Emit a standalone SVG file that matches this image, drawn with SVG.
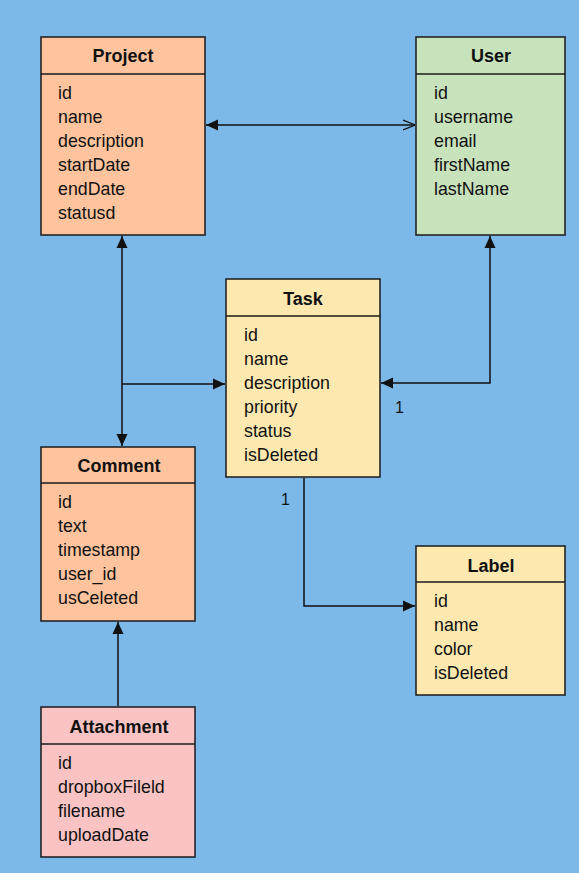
<svg xmlns="http://www.w3.org/2000/svg" width="579" height="873" viewBox="0 0 579 873">
<defs>
<style>
.box{stroke:#1a1a1a;stroke-width:1.5}
.div{stroke:#1a1a1a;stroke-width:1.5}
.t{font-family:"Liberation Sans",Arial,sans-serif;font-size:18px;font-weight:bold;fill:#111;text-anchor:middle}
.f{font-family:"Liberation Sans",Arial,sans-serif;font-size:17.8px;fill:#111}
.c{stroke:#111;stroke-width:1.5;fill:none}
.lbl{font-family:"Liberation Sans",Arial,sans-serif;font-size:16px;fill:#111}
</style>
<marker id="af" viewBox="0 0 12 12" refX="12" refY="6" markerWidth="12" markerHeight="12" markerUnits="userSpaceOnUse" orient="auto-start-reverse">
<path d="M0,0.5 L12,6 L0,11.5 z" fill="#111"/>
</marker>
<marker id="ao" viewBox="0 0 12 12" refX="12" refY="6" markerWidth="12" markerHeight="12" markerUnits="userSpaceOnUse" orient="auto">
<path d="M0,1 L12,6 L0,11" fill="none" stroke="#111" stroke-width="1.3"/>
</marker>
</defs>
<rect width="579" height="873" fill="#7db9e8"/>

<g id="connectors">
<line class="c" x1="206" y1="125" x2="415" y2="125" marker-start="url(#af)" marker-end="url(#ao)"/>
<line class="c" x1="122" y1="236" x2="122" y2="446" marker-start="url(#af)" marker-end="url(#af)"/>
<line class="c" x1="122" y1="384" x2="225" y2="384" marker-end="url(#af)"/>
<polyline class="c" points="490,236 490,383 381,383" marker-start="url(#af)" marker-end="url(#af)"/>
<text class="lbl" x="395" y="413">1</text>
<polyline class="c" points="304,478 304,606 415,606" marker-end="url(#af)"/>
<text class="lbl" x="281" y="505">1</text>
<line class="c" x1="118" y1="706" x2="118" y2="622" marker-end="url(#af)"/>
</g>

<g id="project">
<rect class="box" x="41" y="37" width="164" height="198" fill="#ffc49e"/>
<line class="div" x1="41" y1="74" x2="205" y2="74"/>
<text class="t" x="123" y="62">Project</text>
<text class="f" x="58" y="99">id</text>
<text class="f" x="58" y="123">name</text>
<text class="f" x="58" y="147">description</text>
<text class="f" x="58" y="171">startDate</text>
<text class="f" x="58" y="195">endDate</text>
<text class="f" x="58" y="219">statusd</text>
</g>

<g id="user">
<rect class="box" x="416" y="37" width="149" height="198" fill="#c8e2bc"/>
<line class="div" x1="416" y1="74" x2="565" y2="74"/>
<text class="t" x="491" y="62">User</text>
<text class="f" x="434" y="99">id</text>
<text class="f" x="434" y="123">username</text>
<text class="f" x="434" y="147">email</text>
<text class="f" x="434" y="171">firstName</text>
<text class="f" x="434" y="195">lastName</text>
</g>

<g id="task">
<rect class="box" x="226" y="279" width="154" height="198" fill="#fde8b0"/>
<line class="div" x1="226" y1="316" x2="380" y2="316"/>
<text class="t" x="303" y="305">Task</text>
<text class="f" x="244" y="341">id</text>
<text class="f" x="244" y="365">name</text>
<text class="f" x="244" y="389">description</text>
<text class="f" x="244" y="413">priority</text>
<text class="f" x="244" y="437">status</text>
<text class="f" x="244" y="461">isDeleted</text>
</g>

<g id="comment">
<rect class="box" x="41" y="447" width="154" height="174" fill="#ffc49e"/>
<line class="div" x1="41" y1="483" x2="195" y2="483"/>
<text class="t" x="119" y="472">Comment</text>
<text class="f" x="58" y="508">id</text>
<text class="f" x="58" y="532">text</text>
<text class="f" x="58" y="556">timestamp</text>
<text class="f" x="58" y="580">user_id</text>
<text class="f" x="58" y="604">usCeleted</text>
</g>

<g id="label">
<rect class="box" x="416" y="546" width="149" height="149" fill="#fde8b0"/>
<line class="div" x1="416" y1="582" x2="565" y2="582"/>
<text class="t" x="491" y="572">Label</text>
<text class="f" x="434" y="607">id</text>
<text class="f" x="434" y="631">name</text>
<text class="f" x="434" y="655">color</text>
<text class="f" x="434" y="679">isDeleted</text>
</g>

<g id="attachment">
<rect class="box" x="41" y="707" width="154" height="150" fill="#f9c3c3"/>
<line class="div" x1="41" y1="744" x2="195" y2="744"/>
<text class="t" x="119" y="733">Attachment</text>
<text class="f" x="58" y="769">id</text>
<text class="f" x="58" y="793">dropboxFileld</text>
<text class="f" x="58" y="817">filename</text>
<text class="f" x="58" y="841">uploadDate</text>
</g>
</svg>
